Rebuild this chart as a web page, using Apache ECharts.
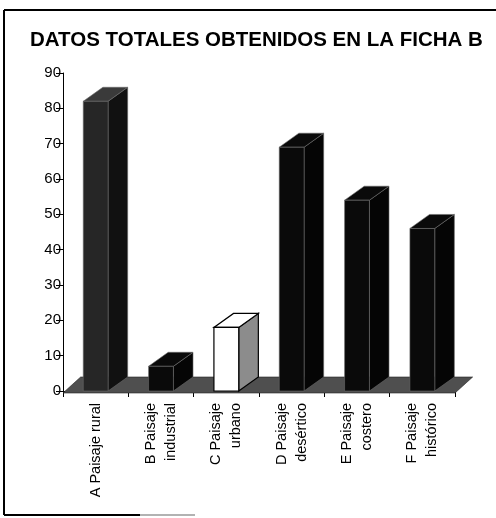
<!DOCTYPE html>
<html>
<head>
<meta charset="utf-8">
<script src="https://cdn.jsdelivr.net/npm/echarts@6/dist/echarts.min.js"></script>
<style>
  html, body { margin: 0; padding: 0; background: #fff; }
  #main { width: 496px; height: 518px; }
</style>
</head>
<body>
<div id="main"></div>
<script>
const titleText = 'DATOS TOTALES OBTENIDOS EN LA FICHA B';
const categories = [
  'A Paisaje rural',
  'B Paisaje\nindustrial',
  'C Paisaje\nurbano',
  'D Paisaje\ndesértico',
  'E Paisaje\ncostero',
  'F Paisaje\nhistórico'
];
const values = [82, 7, 18, 69, 54, 46];

// face colours per bar: [front, side, top]
const faceColors = [
  ['#262626', '#111', '#3a3a3a'],
  ['#0a0a0a', '#050505', '#0a0a0a'],
  ['#ffffff', '#8c8c8c', '#ffffff'],
  ['#0a0a0a', '#050505', '#0a0a0a'],
  ['#0a0a0a', '#050505', '#0a0a0a'],
  ['#0a0a0a', '#050505', '#0a0a0a']
];

const DY = 14;
const font = "'Liberation Sans', Arial, sans-serif";

function renderFloor(params, api) {
  const cs = params.coordSys;
  const dx = api.size([1, 0])[0] * 0.27;
  const yb = cs.y + cs.height;
  return {
    type: 'polygon',
    shape: { points: [[cs.x, yb + 2], [cs.x + cs.width, yb + 2], [cs.x + cs.width + dx, yb - DY], [cs.x + dx, yb - DY]] },
    style: { fill: '#4f4f4f', stroke: '#222', lineWidth: 0.6 }
  };
}

function renderBar(params, api) {
  const i = api.value(0);
  const base = api.coord([i, 0]);
  const top = api.coord([i, api.value(1)]);
  const band = api.size([1, 0])[0];
  const w = band * 0.38, dx = band * 0.3;
  const x0 = base[0] - w / 2, x1 = base[0] + w / 2;
  const yb = base[1], yt = top[1];
  const c = faceColors[i];
  const light = c[0] === '#ffffff';
  const stroke = light ? '#000' : '#6a6a6a';
  return {
    type: 'group',
    children: [
      { type: 'polygon', shape: { points: [[x1, yb], [x1 + dx, yb - DY], [x1 + dx, yt - DY], [x1, yt]] },
        style: { fill: c[1], stroke: stroke, lineWidth: light ? 1.2 : 0.6 } },
      { type: 'polygon', shape: { points: [[x0, yt], [x1, yt], [x1 + dx, yt - DY], [x0 + dx, yt - DY]] },
        style: { fill: c[2], stroke: stroke, lineWidth: light ? 1.2 : 0.6 } },
      { type: 'rect', shape: { x: x0, y: yt, width: w, height: yb - yt },
        style: { fill: c[0], stroke: stroke, lineWidth: light ? 1.2 : 0.6 } }
    ]
  };
}

const chart = echarts.init(document.getElementById('main'));
chart.setOption({
  animation: false,
  backgroundColor: '#fff',
  title: {
    text: titleText,
    left: 25,
    top: 25,
    textStyle: { fontFamily: font, fontSize: 20.5, fontWeight: 'bold', color: '#000' }
  },
  grid: { left: 63, right: 41, top: 73, bottom: 127 },
  xAxis: {
    type: 'category',
    data: categories,
    axisLine: { show: true, lineStyle: { color: '#000', width: 1 } },
    axisTick: { show: true, length: 6, lineStyle: { color: '#000' } },
    axisLabel: {
      rotate: 90, interval: 0, margin: 12,
      fontFamily: font, fontSize: 14.5, lineHeight: 20, color: '#000'
    },
    splitLine: { show: false }
  },
  yAxis: {
    type: 'value',
    min: 0, max: 90, interval: 10,
    axisLine: { show: true, lineStyle: { color: '#000', width: 1 } },
    axisTick: { show: true, length: 7, lineStyle: { color: '#000' } },
    axisLabel: { fontFamily: font, fontSize: 15, color: '#000', margin: 2 },
    splitLine: { show: false }
  },
  series: [
    { type: 'custom', z: 1, renderItem: renderFloor, data: [[0, 0]], silent: true },
    { type: 'custom', z: 2, renderItem: renderBar, data: values.map((v, i) => [i, v]) }
  ],
  graphic: [
    { type: 'line', shape: { x1: 4, y1: 10, x2: 4, y2: 515 }, style: { stroke: '#000', lineWidth: 2 } },
    { type: 'line', shape: { x1: 4, y1: 10, x2: 496, y2: 10 }, style: { stroke: '#000', lineWidth: 2 } },
    { type: 'line', shape: { x1: 4, y1: 515, x2: 140, y2: 515 }, style: { stroke: '#000', lineWidth: 2 } },
    { type: 'line', shape: { x1: 140, y1: 515, x2: 195, y2: 515 }, style: { stroke: '#999', lineWidth: 1.5 } }
  ]
});
</script>
</body>
</html>
